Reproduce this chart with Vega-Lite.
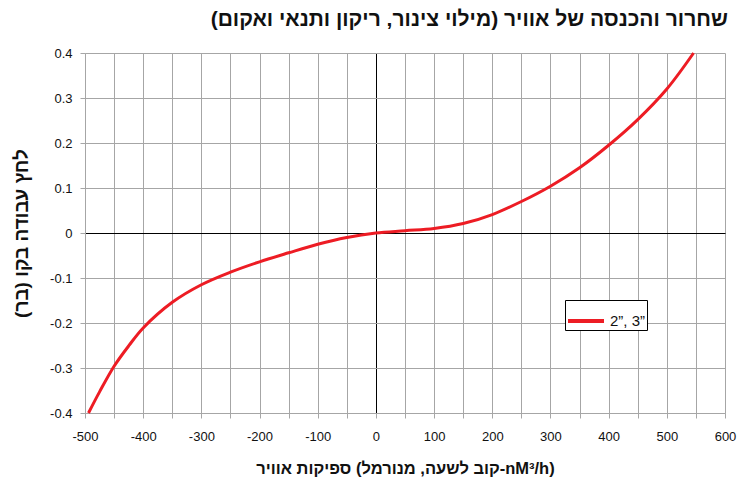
{
  "$schema": "https://vega.github.io/schema/vega-lite/v6.json",
  "autosize": {"type": "none"},
  "padding": {"left": 85, "top": 53, "right": 29, "bottom": 75},
  "width": 640,
  "height": 360,
  "config": {
    "locale": {"number": {"decimal": ".", "thousands": ",", "grouping": [3], "currency": ["$", ""], "minus": "-"}},
    "font": "Liberation Sans",
    "view": {"stroke": null}
  },
  "title": {
    "text": "שחרור והכנסה של אוויר (מילוי צינור, ריקון ותנאי ואקום)",
    "anchor": "end",
    "font": "Liberation Sans",
    "fontSize": 21,
    "fontWeight": "bold",
    "color": "#111111",
    "offset": 17,
    "dx": -8
  },
  "data": {
    "values": [
      {"flow": -494, "pressure": -0.400, "series": "2”, 3”"},
      {"flow": -475, "pressure": -0.353, "series": "2”, 3”"},
      {"flow": -450, "pressure": -0.296, "series": "2”, 3”"},
      {"flow": -425, "pressure": -0.251, "series": "2”, 3”"},
      {"flow": -400, "pressure": -0.211, "series": "2”, 3”"},
      {"flow": -350, "pressure": -0.154, "series": "2”, 3”"},
      {"flow": -300, "pressure": -0.115, "series": "2”, 3”"},
      {"flow": -250, "pressure": -0.087, "series": "2”, 3”"},
      {"flow": -200, "pressure": -0.064, "series": "2”, 3”"},
      {"flow": -150, "pressure": -0.044, "series": "2”, 3”"},
      {"flow": -100, "pressure": -0.025, "series": "2”, 3”"},
      {"flow": -50, "pressure": -0.010, "series": "2”, 3”"},
      {"flow": 0, "pressure": 0.000, "series": "2”, 3”"},
      {"flow": 50, "pressure": 0.005, "series": "2”, 3”"},
      {"flow": 100, "pressure": 0.010, "series": "2”, 3”"},
      {"flow": 150, "pressure": 0.021, "series": "2”, 3”"},
      {"flow": 200, "pressure": 0.041, "series": "2”, 3”"},
      {"flow": 250, "pressure": 0.070, "series": "2”, 3”"},
      {"flow": 300, "pressure": 0.104, "series": "2”, 3”"},
      {"flow": 350, "pressure": 0.145, "series": "2”, 3”"},
      {"flow": 400, "pressure": 0.195, "series": "2”, 3”"},
      {"flow": 450, "pressure": 0.252, "series": "2”, 3”"},
      {"flow": 500, "pressure": 0.320, "series": "2”, 3”"},
      {"flow": 546, "pressure": 0.400, "series": "2”, 3”"}
    ]
  },
  "mark": {"type": "line", "strokeWidth": 3, "interpolate": "catmull-rom"},
  "encoding": {
    "x": {
      "field": "flow",
      "type": "quantitative",
      "scale": {"domain": [-500, 600], "nice": false, "zero": false},
      "axis": {
        "values": [-500, -450, -400, -350, -300, -250, -200, -150, -100, -50, 0, 50, 100, 150, 200, 250, 300, 350, 400, 450, 500, 550, 600],
        "labelExpr": "datum.value % 100 === 0 ? datum.label : ''",
        "labelFont": "Liberation Sans",
        "labelFontSize": 13,
        "labelColor": "#111111",
        "labelPadding": 12,
        "labelFlush": false,
        "labelOverlap": false,
        "grid": true,
        "gridColor": {"condition": {"test": "datum.value === 0", "value": "#000000"}, "value": "#a6a6a6"},
        "gridWidth": 1,
        "gridOpacity": 1,
        "domainColor": "#a6a6a6",
        "tickColor": "#a6a6a6",
        "tickSize": 5,
        "title": "ספיקות אוויר (קוב לשעה, מנורמל-nM³/h)",
        "titleFont": "Liberation Sans",
        "titleFontSize": 16.5,
        "titleFontWeight": "bold",
        "titleColor": "#111111",
        "titleX": 320,
        "titleY": 55,
        "titleBaseline": "middle"
      }
    },
    "y": {
      "field": "pressure",
      "type": "quantitative",
      "scale": {"domain": [-0.4, 0.4], "nice": false, "zero": false},
      "axis": {
        "values": [-0.4, -0.3, -0.2, -0.1, 0, 0.1, 0.2, 0.3, 0.4],
        "format": "~g",
        "labelFont": "Liberation Sans",
        "labelFontSize": 13,
        "labelColor": "#111111",
        "labelPadding": 8,
        "labelFlush": false,
        "labelOverlap": false,
        "grid": true,
        "gridColor": {"condition": {"test": "datum.value === 0", "value": "#000000"}, "value": "#a6a6a6"},
        "gridWidth": 1,
        "gridOpacity": 1,
        "domainColor": "#a6a6a6",
        "tickColor": "#a6a6a6",
        "tickSize": 5,
        "title": "לחץ עבודה בקו (בר)",
        "titleFont": "Liberation Sans",
        "titleFontSize": 19,
        "titleFontWeight": "bold",
        "titleColor": "#111111",
        "titleX": -64,
        "titleY": 180,
        "titleBaseline": "middle",
        "titleAngle": -90
      }
    },
    "color": {
      "field": "series",
      "type": "nominal",
      "scale": {"range": ["#ed1c24"]},
      "legend": {
        "title": null,
        "orient": "none",
        "legendX": 480,
        "legendY": 247,
        "symbolType": "stroke",
        "symbolStrokeWidth": 4,
        "symbolSize": 1296,
        "labelFont": "Liberation Sans",
        "labelFontSize": 15,
        "labelColor": "#111111",
        "labelOffset": 4,
        "strokeColor": "#000000",
        "fillColor": "#ffffff",
        "padding": 1
      }
    }
  }
}
